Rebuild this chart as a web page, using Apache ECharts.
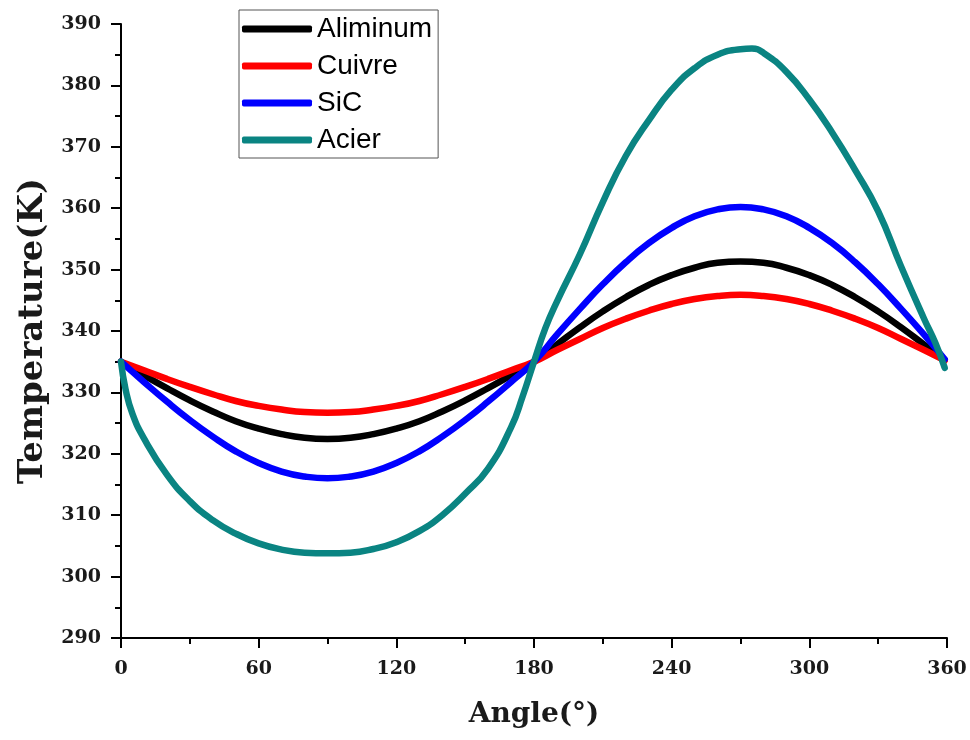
<!DOCTYPE html>
<html>
<head>
<meta charset="utf-8">
<script src="https://cdn.jsdelivr.net/npm/echarts@6/dist/echarts.min.js"></script>
<style>
  html, body { margin: 0; padding: 0; background: #fff; }
  #chart { width: 970px; height: 740px; }
</style>
</head>
<body>
<div id="chart"></div>
<script>
// Angular positions (degrees) shared by the three smoother curves
const angles = [0, 10, 20, 30, 40, 50, 60, 70, 80, 90, 100, 110, 120, 130, 140, 150, 160, 170, 180,
                190, 200, 210, 220, 230, 240, 250, 260, 270, 280, 290, 300, 310, 320, 330, 340, 350, 359];

// Temperature (K) along the circumference
const aluminum = [335, 332.8, 330.7, 328.7, 326.9, 325.3, 324.1, 323.2, 322.6, 322.4,
                  322.6, 323.2, 324.1, 325.3, 326.9, 328.7, 330.7, 332.8, 335,
                  337.8, 340.6, 343.2, 345.5, 347.5, 349.1, 350.3, 351.1, 351.3,
                  351.1, 350.3, 349.1, 347.5, 345.5, 343.2, 340.6, 337.8, 335.3];
const cuivre   = [335, 333.6, 332.2, 330.9, 329.7, 328.6, 327.8, 327.2, 326.8, 326.7,
                  326.8, 327.2, 327.8, 328.6, 329.7, 330.9, 332.2, 333.6, 335,
                  336.9, 338.7, 340.5, 342.0, 343.3, 344.4, 345.2, 345.7, 345.9,
                  345.7, 345.2, 344.4, 343.3, 342.0, 340.5, 338.7, 336.9, 335.2];
const sic      = [335, 331.7, 328.5, 325.5, 322.8, 320.4, 318.5, 317.1, 316.3, 316.0,
                  316.3, 317.1, 318.5, 320.4, 322.8, 325.5, 328.5, 331.7, 335,
                  339.4, 343.6, 347.6, 351.2, 354.3, 356.8, 358.7, 359.8, 360.2,
                  359.8, 358.7, 356.8, 354.3, 351.2, 347.6, 343.6, 339.4, 335.4];

// Steel curve is sampled more densely (sharper shape)
const acierAngles = [0, 2, 5, 10, 20, 30, 40, 50, 60, 70, 80, 90, 100, 110, 120, 130, 140, 150, 160, 170, 175, 180,
                     185, 190, 200, 210, 220, 230, 240, 250, 260, 270, 275, 280, 290, 300, 310, 320,
                     330, 340, 350, 355, 359];
const acier = [335, 330.5, 326.5, 322.5, 316.6, 312.3, 309.2, 307, 305.4, 304.4, 303.9, 303.8, 303.9, 304.5,
               305.6, 307.4, 310, 313.5, 317.6, 324.3, 329.3, 335,
               340.5, 344.8, 352.5, 361, 368.5, 374.3, 379.3, 382.8, 385, 385.9, 386, 385.3,
               382.2, 377.7, 372.3, 366.2, 359.5, 350.5, 342, 338, 334];

const seriesNames = ['Aliminum', 'Cuivre', 'SiC', 'Acier'];
const seriesColors = ['#000000', '#ff0000', '#0000ff', '#0a8482'];

const xTicks = { min: 0, max: 360, interval: 60 };
const yTicks = { min: 290, max: 390, interval: 10 };

function pairs(xs, ys) { return xs.map((x, i) => [x, ys[i]]); }

const datasets = [pairs(angles, aluminum), pairs(angles, cuivre), pairs(angles, sic), pairs(acierAngles, acier)];

const tickFont = { fontFamily: 'DejaVu Serif', fontWeight: 'bold', fontSize: 19, color: '#1a1a1a' };

const chart = echarts.init(document.getElementById('chart'), null, { renderer: 'canvas' });

chart.setOption({
  animation: false,
  backgroundColor: '#ffffff',
  grid: { left: 121, right: 23, top: 24, bottom: 102 },
  legend: {
    orient: 'vertical',
    left: 239,
    top: 10,
    data: seriesNames,
    icon: 'roundRect',
    itemWidth: 70,
    itemHeight: 7,
    itemGap: 9,
    padding: [5, 6, 4, 3],
    borderColor: '#555',
    borderWidth: 1,
    textStyle: { fontFamily: 'Liberation Sans', fontSize: 28, color: '#000', lineHeight: 27 }
  },
  xAxis: {
    type: 'value',
    min: xTicks.min, max: xTicks.max, interval: xTicks.interval,
    name: 'Angle(°)',
    nameLocation: 'middle',
    nameGap: 63,
    nameTextStyle: { fontFamily: 'DejaVu Serif', fontWeight: 'bold', fontSize: 28, color: '#1a1a1a' },
    axisLine: { onZero: false, lineStyle: { color: '#000', width: 2 } },
    axisTick: { inside: false, length: 10, lineStyle: { color: '#000', width: 2 } },
    minorTick: { show: true, splitNumber: 2, length: 6, lineStyle: { color: '#000', width: 2 } },
    splitLine: { show: false },
    axisLabel: Object.assign({ margin: 22 }, tickFont)
  },
  yAxis: {
    type: 'value',
    min: yTicks.min, max: yTicks.max, interval: yTicks.interval,
    name: 'Temperature(K)',
    nameLocation: 'middle',
    nameGap: 70,
    nameTextStyle: { fontFamily: 'DejaVu Serif', fontWeight: 'bold', fontSize: 34, color: '#1a1a1a' },
    axisLine: { onZero: false, lineStyle: { color: '#000', width: 2 } },
    axisTick: { inside: false, length: 10, lineStyle: { color: '#000', width: 2 } },
    minorTick: { show: true, splitNumber: 2, length: 6, lineStyle: { color: '#000', width: 2 } },
    splitLine: { show: false },
    axisLabel: Object.assign({ margin: 20 }, tickFont)
  },
  series: seriesNames.map((name, i) => ({
    name: name,
    type: 'line',
    data: datasets[i],
    smooth: 0.5,
    showSymbol: false,
    symbol: 'none',
    color: seriesColors[i],
    lineStyle: { width: 6.5, color: seriesColors[i], cap: 'round', join: 'round' },
    z: 2 + i
  }))
});
</script>
</body>
</html>
